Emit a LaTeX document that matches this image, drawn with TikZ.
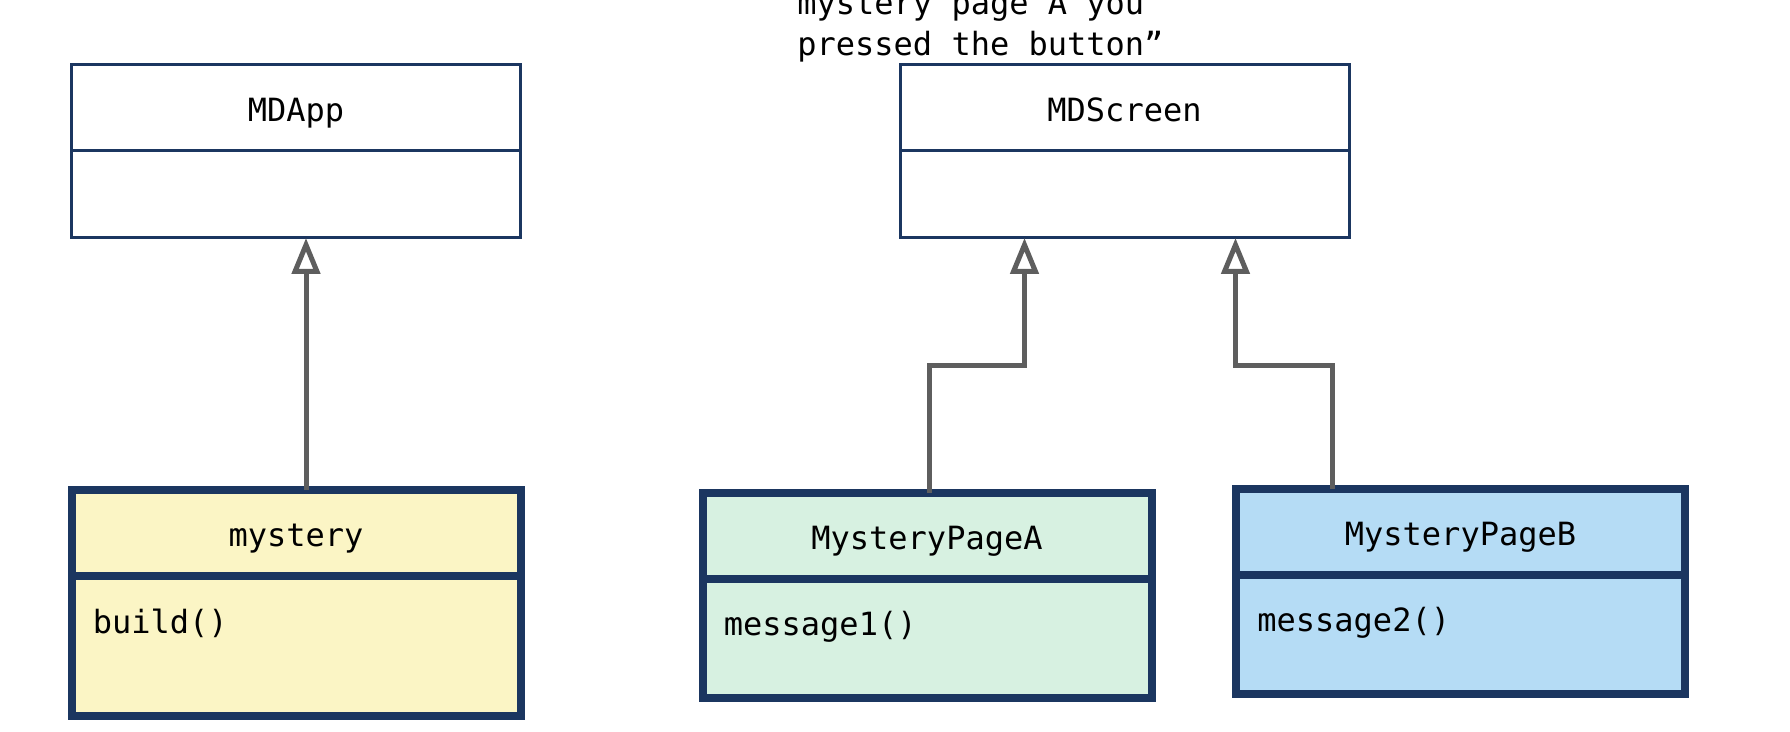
\documentclass[tikz,border=0pt]{standalone}
\usepackage{fontspec}
\newfontfamily\umlfont{DejaVu Sans Mono}
\usepackage{tikz}
\usetikzlibrary{arrows.meta,positioning}
\definecolor{navy}{HTML}{1B3660}
\definecolor{linegray}{HTML}{5E5E5E}
\definecolor{paleyellow}{HTML}{FBF5C5}
\definecolor{palegreen}{HTML}{D7F1E1}
\definecolor{paleblue}{HTML}{B5DCF5}

\begin{document}
\begin{tikzpicture}[x=0.5pt,y=-0.5pt,font=\umlfont\fontsize{16}{20.5}\selectfont,
  head/.style={draw=navy,outer sep=0pt,inner sep=0pt,minimum width=224.5pt,minimum height=43pt,
    text height=14pt,text depth=0pt},
  member/.style={anchor=base west,inner sep=0pt},
  isa/.style={-{Triangle[open,length=18pt,width=14pt]},line width=2.5pt,linegray}]
  \useasboundingbox (0,0) rectangle (1790,732);
  % note, cut off at the top
  \node[anchor=base west,align=left,inner sep=0pt] (note) at (797,56)
    {mystery page A you\\pressed the button”};
  % base classes
  \node[head,line width=1.5pt] (mdapp) at (296,108) {MDApp};
  \node[head,line width=1.5pt,minimum height=43.5pt,below=0pt of mdapp] (mdappbody) {};
  \node[head,line width=1.5pt] (mdscreen) at (1124.5,108) {MDScreen};
  \node[head,line width=1.5pt,minimum height=43.5pt,below=0pt of mdscreen] (mdscreenbody) {};
  % subclasses
  \node[head,line width=4pt,fill=paleyellow] (mystery) at (296,533) {mystery};
  \node[head,line width=4pt,fill=paleyellow,minimum height=70pt,below=0pt of mystery] (mysterybody) {};
  \node[member] at ([shift={(21,57)}]mysterybody.north west) {build()};
  \node[head,line width=4pt,fill=palegreen] (pagea) at (927,536) {MysteryPageA};
  \node[head,line width=4pt,fill=palegreen,minimum height=59.5pt,below=0pt of pagea] (pageabody) {};
  \node[member] at ([shift={(21,57)}]pageabody.north west) {message1()};
  \node[head,line width=4pt,fill=paleblue] (pageb) at (1460.5,532) {MysteryPageB};
  \node[head,line width=4pt,fill=paleblue,minimum height=59.5pt,below=0pt of pageb] (pagebbody) {};
  \node[member] at ([shift={(21,57)}]pagebbody.north west) {message2()};
  % inheritance
  \draw[isa] ([xshift=5pt]mystery.north) -- ([xshift=5pt]mdappbody.south);
  \draw[isa] ([xshift=1pt]pagea.north) -- ++(0,-127) -| ([xshift=-50pt]mdscreenbody.south);
  \draw[isa] ([xshift=-64pt]pageb.north) -- ++(0,-123) -| ([xshift=55.5pt]mdscreenbody.south);
\end{tikzpicture}
\end{document}
